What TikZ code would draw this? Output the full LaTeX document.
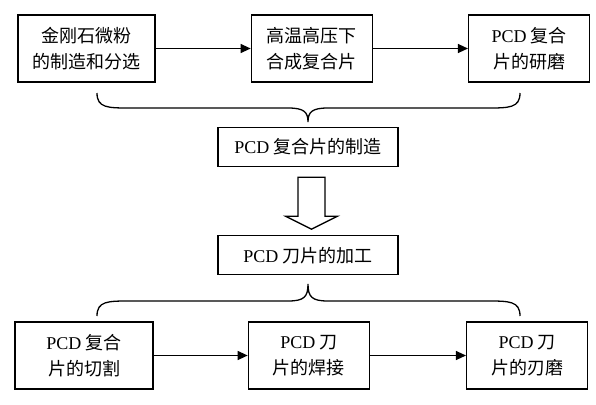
\documentclass[tikz,border=0pt]{standalone}
\usepackage{fontspec}
\setmainfont{Liberation Serif}
\newfontfamily\cjk{Noto Sans CJK SC}
\usetikzlibrary{arrows.meta,positioning,calc}
\tikzset{blk/.style={draw=black,line width=1.3pt,minimum width=121pt,minimum height=67pt,align=center,inner sep=2pt,font=\cjk\fontsize{18}{26}\selectfont},mid/.style={blk,minimum width=180pt,minimum height=39pt},flow/.style={-{Triangle[length=10pt,width=9pt]},line width=1.2pt},brc/.style={line width=1.3pt},hollow/.style={line width=1.3pt,fill=white,line join=miter}}

\begin{document}
\begin{tikzpicture}[x=1pt,y=-1pt,node distance=95pt]
\useasboundingbox (0,0) rectangle (596,404);
\node[blk,minimum width=137pt] (dia) at (86.5,48.5) {金刚石微粉\\的制造和分选};
\node[blk,right=of dia] (hthp) {高温高压下\\合成复合片};
\node[blk,right=of hthp] (grind) {{\rmfamily PCD} 复合\\片的研磨};
\node[mid] (make) at (308,147) {{\rmfamily PCD} 复合片的制造};
\node[mid,below=68pt of make] (proc) {{\rmfamily PCD} 刀片的加工};
\node[blk,minimum width=138pt] (cut) at (84,355.5) {{\rmfamily PCD} 复合\\片的切割};
\node[blk,right=94pt of cut] (weld) {{\rmfamily PCD} 刀\\片的焊接};
\node[blk,right=96pt of weld] (edge) {{\rmfamily PCD} 刀\\片的刃磨};
\draw[flow] (dia)--(hthp);\draw[flow] (hthp)--(grind);
\draw[flow] (cut)--(weld);\draw[flow] (weld)--(edge);
% braces
\coordinate (tl) at (97,93);\coordinate (tm) at (308,122);\coordinate (tr) at (520,93);
\draw[brc] (tl) .. controls (97,108) and (108,108) .. (130,108) -- (288,108) .. controls (304,108) and (308,112) .. (tm) .. controls (308,112) and (312,108) .. (328,108) -- (487,108) .. controls (509,108) and (520,108) .. (tr);
\coordinate (bl) at (97,316);\coordinate (bm) at (308,284);\coordinate (br) at (520,316);
\draw[brc] (bl) .. controls (97,301) and (108,301) .. (130,301) -- (288,301) .. controls (304,301) and (308,297) .. (bm) .. controls (308,297) and (312,301) .. (328,301) -- (487,301) .. controls (509,301) and (520,301) .. (br);
% hollow arrow
\coordinate (au) at ($(make.south)+(3.5,10)$);
\draw[hollow] ($(au)+(-13.5,0)$) -- ($(au)+(13.5,0)$) -- ($(au)+(13.5,39)$) -- ($(au)+(26,39)$) -- ($(au)+(0,52)$) -- ($(au)+(-26,39)$) -- ($(au)+(-13.5,39)$) -- cycle;
\end{tikzpicture}
\end{document}
